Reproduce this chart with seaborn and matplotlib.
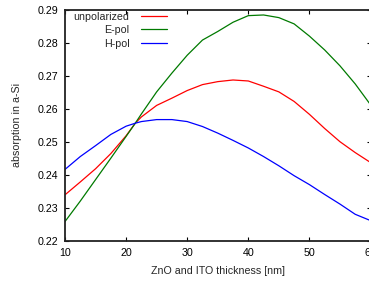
import matplotlib
matplotlib.use("Agg")
import matplotlib.pyplot as plt
import seaborn as sns
import pandas as pd

thickness = [10, 12.5, 15, 17.5, 20, 21.5, 22.5, 25, 27.5, 30, 32.5, 35, 37.5,
             40, 42.5, 45, 47.5, 50, 52.5, 55, 57.5, 60]
unpolarized = [0.2339, 0.2378, 0.2418, 0.2464, 0.2518, 0.2556, 0.2575, 0.2610,
               0.2632, 0.2655, 0.2673, 0.2682, 0.2687, 0.2684, 0.2668, 0.2651,
               0.2622, 0.2583, 0.2540, 0.2500, 0.2467, 0.2437]
e_pol = [0.2258, 0.2320, 0.2385, 0.2450, 0.2516, 0.2556, 0.2584, 0.2651,
         0.2708, 0.2762, 0.2808, 0.2834, 0.2862, 0.2882, 0.2884, 0.2876,
         0.2857, 0.2820, 0.2778, 0.2730, 0.2675, 0.2612]
h_pol = [0.2416, 0.2455, 0.2488, 0.2522, 0.2547, 0.2556, 0.2561, 0.2567,
         0.2567, 0.2561, 0.2546, 0.2526, 0.2504, 0.2481, 0.2455, 0.2427,
         0.2397, 0.2370, 0.2340, 0.2311, 0.2280, 0.2261]
series_names = ["unpolarized", "E-pol", "H-pol"]
x_ticks = [10, 20, 30, 40, 50, 60]
y_ticks = [0.22, 0.23, 0.24, 0.25, 0.26, 0.27, 0.28, 0.29]

df = pd.concat([
    pd.DataFrame({"x": thickness, "y": vals, "series": name})
    for name, vals in zip(series_names, [unpolarized, e_pol, h_pol])
])

sns.set_style("ticks")
plt.rcParams["font.family"] = ["Liberation Sans", "DejaVu Sans"]
FS = 7.7

fig = plt.figure(figsize=(3.69, 2.83), dpi=100)
W, H = 369, 283
ax = fig.add_axes([65 / W, 1 - 240.7 / H, (370.5 - 65) / W, (240.7 - 9.7) / H])

palette = {"unpolarized": "#ff0000", "E-pol": "#007a00", "H-pol": "#0000ff"}
sns.lineplot(data=df, x="x", y="y", hue="series", palette=palette,
             linewidth=0.9, ax=ax, legend=True)

ax.set_xlim(10, 60)
ax.set_ylim(0.22, 0.29)
ax.set_xticks(x_ticks)
ax.set_yticks(y_ticks)
ax.set_xticklabels([str(t) for t in x_ticks])
ax.set_yticklabels([f"{t:.2f}" for t in y_ticks])
ax.tick_params(direction="in", length=3, width=0.8, top=True, right=True,
               labelsize=FS, colors="black", pad=5)
for s in ax.spines.values():
    s.set_visible(True)
    s.set_linewidth(1.3)
    s.set_color("#222222")
ax.set_xlabel("ZnO and ITO thickness [nm]", fontsize=FS, labelpad=6)
ax.set_ylabel("absorption in a-Si", fontsize=FS, labelpad=11)

handles, labels = ax.get_legend_handles_labels()
ax.legend(handles, labels, loc="upper right", frameon=False,
          bbox_to_anchor=(167 / W, 1 - 11.5 / H), bbox_transform=fig.transFigure,
          borderpad=0, markerfirst=False, fontsize=FS, handlelength=2.4,
          handletextpad=1.1, labelspacing=0.35, borderaxespad=0)

fig.savefig("out.png", dpi=100)
